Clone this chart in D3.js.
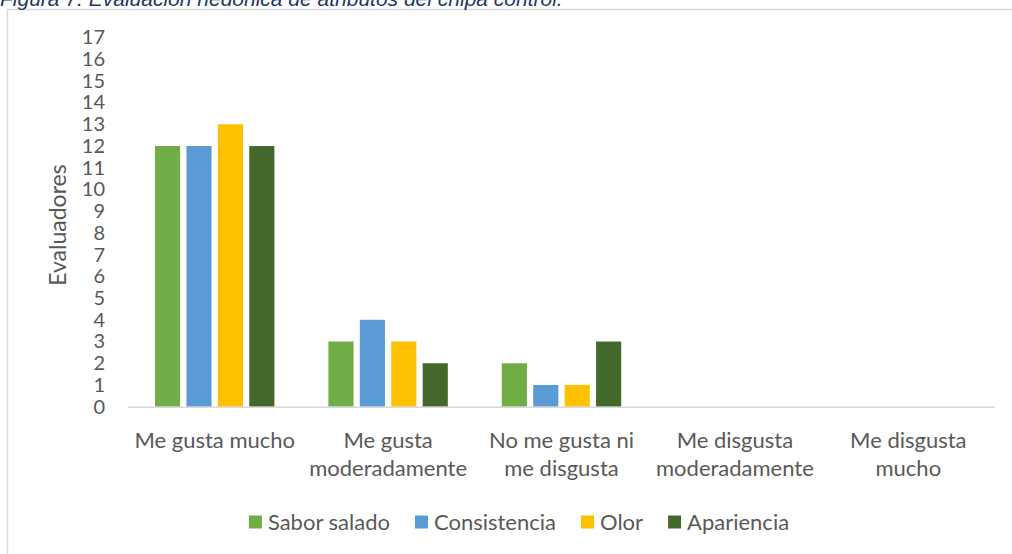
<!DOCTYPE html>
<html>
<head>
<meta charset="utf-8">
<script src="https://cdn.jsdelivr.net/npm/d3@7"></script>
<style>
  body { margin: 0; background: #fff; }
  svg { display: block; }
</style>
</head>
<body>
<svg id="chart" width="1012" height="554"></svg>
<script>
// categories and series
const categories = ['Me gusta mucho', 'Me gusta moderadamente', 'No me gusta ni me disgusta', 'Me disgusta moderadamente', 'Me disgusta mucho'];
const categoryLines = [['Me gusta mucho'], ['Me gusta', 'moderadamente'], ['No me gusta ni', 'me disgusta'], ['Me disgusta', 'moderadamente'], ['Me disgusta', 'mucho']];
const seriesNames = ['Sabor salado', 'Consistencia', 'Olor', 'Apariencia'];
const saborSalado = [12, 3, 2, 0, 0];
const consistencia = [12, 4, 1, 0, 0];
const olor = [13, 3, 1, 0, 0];
const apariencia = [12, 2, 3, 0, 0];
const seriesValues = [saborSalado, consistencia, olor, apariencia];
const colors = ['#70AD47', '#5B9BD5', '#FFC000', '#43682B'];
const yTicks = d3.range(0, 18);

const font = 'Lato, Carlito, sans-serif';
const svg = d3.select('#chart');

svg.append('rect').attr('width', 1012).attr('height', 554).attr('fill', '#fff');

// chart frame (runs off the right and bottom edges)
svg.append('rect')
  .attr('x', 7.5).attr('y', 9.5)
  .attr('width', 1100).attr('height', 600)
  .attr('fill', 'none')
  .attr('stroke', '#d9d9d9')
  .attr('stroke-width', 1.5);

// figure caption, clipped at the top like the source
svg.append('text')
  .attr('x', 0).attr('y', 6)
  .style('font-family', '"Liberation Sans", Arial, sans-serif')
  .style('font-style', 'italic')
  .style('font-size', '21px')
  .style('fill', '#1F3864')
  .text('Figura 7. Evaluación hedónica de atributos del chipa control.');

const x0 = d3.scaleBand().domain(categories).range([128, 995]).padding(0);
const x1 = d3.scaleBand().domain(seriesNames)
  .range([27, x0.bandwidth() - 27])
  .paddingInner(0.2);
const y = d3.scaleLinear().domain([0, 17]).range([406.7, 37.4]);

// y axis labels
const yAxis = svg.append('g')
  .attr('transform', 'translate(105,0)')
  .call(d3.axisLeft(y).tickValues(yTicks).tickSize(0).tickPadding(0));
yAxis.select('.domain').remove();
yAxis.selectAll('text')
  .style('font-family', font)
  .style('font-size', '20px')
  .style('fill', '#595959');

// bars
const groups = svg.append('g').selectAll('g')
  .data(categories)
  .join('g')
  .attr('transform', d => `translate(${x0(d)},0)`);

groups.selectAll('rect')
  .data((d, i) => seriesNames.map((s, j) => ({ s, v: seriesValues[j][i], c: colors[j] })))
  .join('rect')
  .attr('x', d => x1(d.s))
  .attr('y', d => y(d.v))
  .attr('width', x1.bandwidth())
  .attr('height', d => y(0) - y(d.v))
  .attr('fill', d => d.c);

// baseline
svg.append('line')
  .attr('x1', 128).attr('x2', 995)
  .attr('y1', y(0) + 0.5).attr('y2', y(0) + 0.5)
  .attr('stroke', '#d9d9d9')
  .attr('stroke-width', 1.5);

// category labels
const labels = svg.append('g').selectAll('text')
  .data(categories)
  .join('text')
  .attr('text-anchor', 'middle')
  .attr('transform', d => `translate(${x0(d) + x0.bandwidth() / 2},0)`)
  .style('font-family', font)
  .style('font-size', '22px')
  .style('fill', '#595959');
labels.selectAll('tspan')
  .data((d, i) => categoryLines[i])
  .join('tspan')
  .attr('x', 0)
  .attr('y', (d, i) => 448 + i * 28)
  .text(d => d);

// y axis title
svg.append('text')
  .attr('transform', `translate(66,${(y(0) + y(17)) / 2 + 3}) rotate(-90)`)
  .attr('text-anchor', 'middle')
  .style('font-family', font)
  .style('font-size', '23px')
  .style('fill', '#595959')
  .text('Evaluadores');

// legend
const legend = svg.append('g');
const items = legend.selectAll('g')
  .data(seriesNames)
  .join('g');
items.append('rect')
  .attr('width', 13).attr('height', 13)
  .attr('y', -6.5)
  .attr('fill', (d, i) => colors[i]);
items.append('text')
  .attr('x', 19)
  .attr('dy', '0.35em')
  .style('font-family', font)
  .style('font-size', '22px')
  .style('fill', '#595959')
  .text(d => d);

let cx = 0;
items.each(function() {
  const g = d3.select(this);
  g.attr('transform', `translate(${cx},0)`);
  cx += 19 + g.select('text').node().getComputedTextLength() + 25;
});
const total = cx - 25;
legend.attr('transform', `translate(${519 - total / 2},522)`);
</script>
</body>
</html>
